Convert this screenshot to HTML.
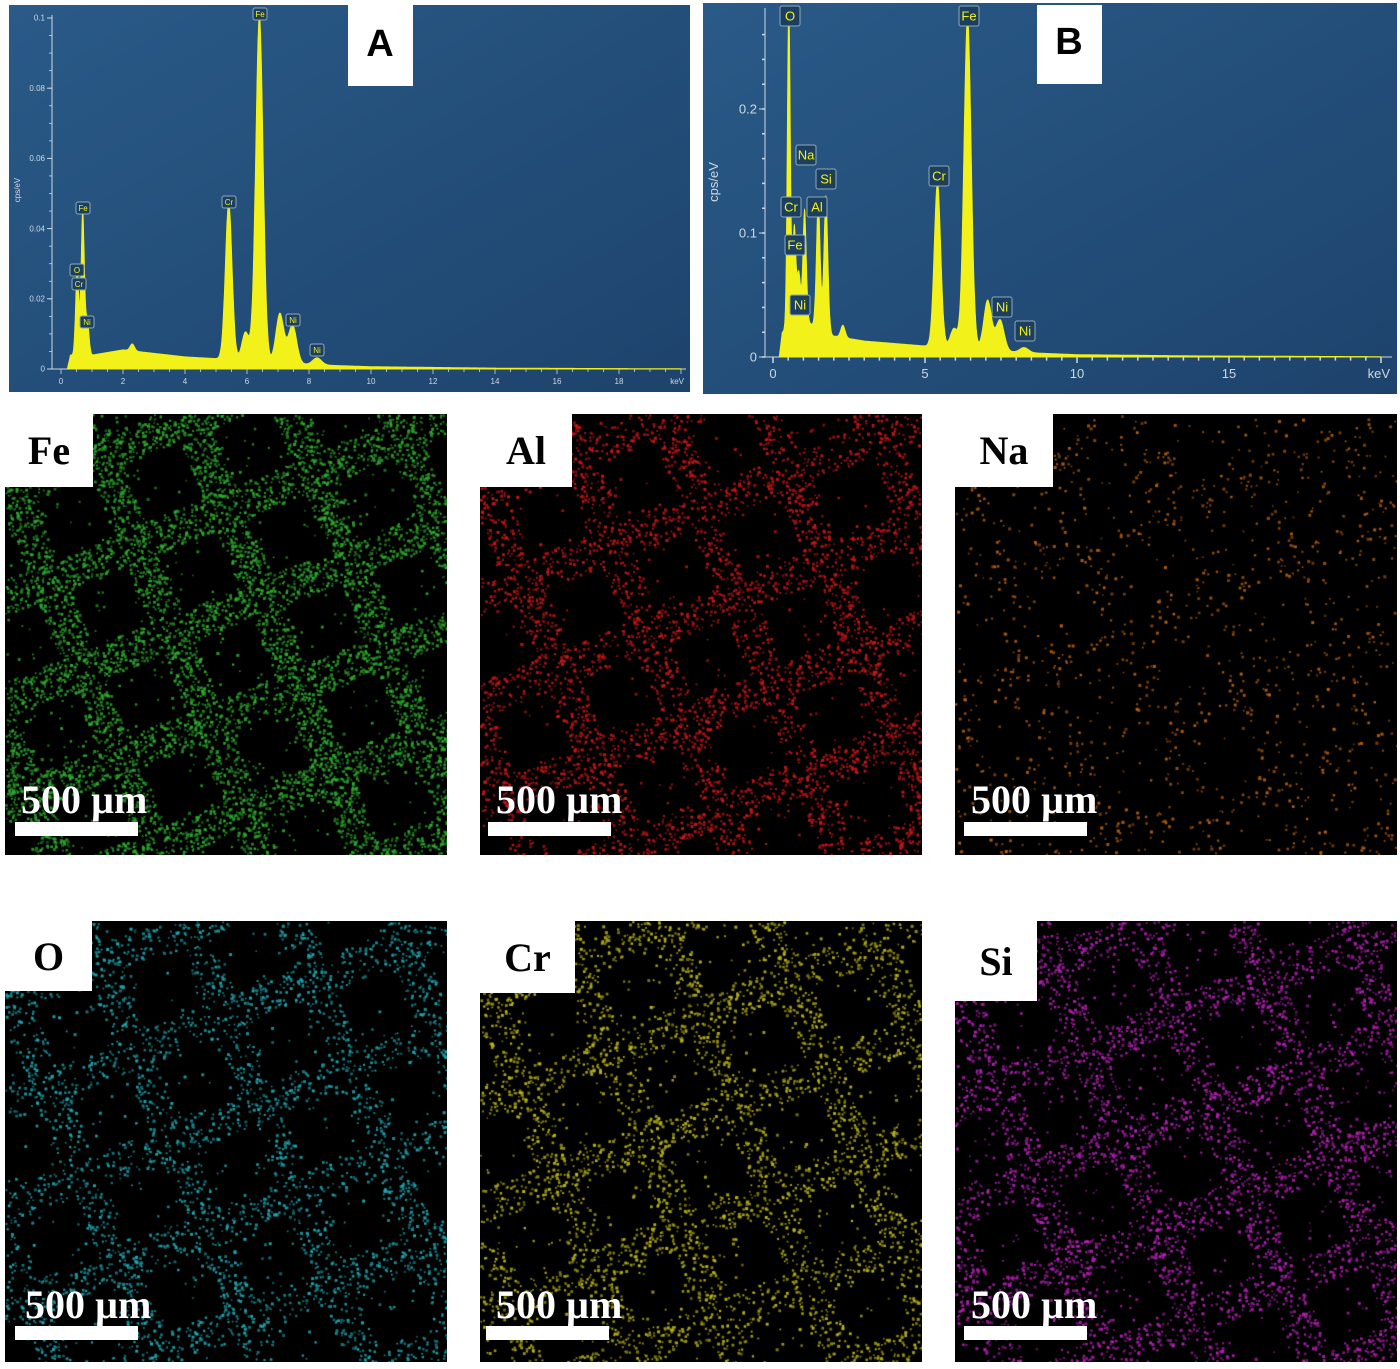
<!DOCTYPE html>
<html><head><meta charset="utf-8">
<style>
body{margin:0;background:#fff;width:1400px;height:1369px;position:relative;overflow:hidden;font-family:"Liberation Sans",sans-serif}
.abs{position:absolute}
.map{position:absolute;width:442px;height:441px;background:#000}
.map canvas{position:absolute;left:0;top:0}
.lab{position:absolute;left:0;top:0;background:#fff;font:bold 40px "Liberation Serif",serif;color:#000;display:flex;align-items:center;justify-content:center}
.sb{position:absolute;font:bold 40px "Liberation Serif",serif;color:#fff;left:16px;top:362px}
.bar{position:absolute;left:10px;top:408px;width:123px;height:14px;background:#fff}
</style></head><body>
<svg class="abs" style="left:0;top:0" width="1400" height="400" id="spec">
<defs><linearGradient id="bg" x1="0" y1="0" x2="1" y2="1"><stop offset="0" stop-color="#2a5a88"/><stop offset="1" stop-color="#1d436c"/></linearGradient></defs>
<rect x="9" y="5" width="681" height="387" fill="url(#bg)"/>
<rect x="703" y="3" width="694" height="391" fill="url(#bg)"/>
<g id="gA"></g><g id="gB"></g>
<rect x="348" y="5" width="65" height="81" fill="#fff"/>
<text x="380" y="56" text-anchor="middle" font-size="38" font-weight="bold" font-family="Liberation Sans">A</text>
<rect x="1037" y="5" width="65" height="79" fill="#fff"/>
<text x="1069" y="54" text-anchor="middle" font-size="38" font-weight="bold" font-family="Liberation Sans">B</text>
</svg>

<div class="map" style="left:5px;top:414px"><canvas width="442" height="441" id="c0"></canvas><div class="lab" style="width:88px;height:73px">Fe</div><div class="sb">500 µm</div><div class="bar"></div></div>
<div class="map" style="left:480px;top:414px"><canvas width="442" height="441" id="c1"></canvas><div class="lab" style="width:92px;height:73px">Al</div><div class="sb">500 µm</div><div class="bar" style="left:8px"></div></div>
<div class="map" style="left:955px;top:414px"><canvas width="442" height="441" id="c2"></canvas><div class="lab" style="width:98px;height:73px">Na</div><div class="sb">500 µm</div><div class="bar" style="left:9px"></div></div>
<div class="map" style="left:5px;top:921px"><canvas width="442" height="441" id="c3"></canvas><div class="lab" style="width:87px;height:70px">O</div><div class="sb" style="left:20px;top:360px">500 µm</div><div class="bar" style="top:405px"></div></div>
<div class="map" style="left:480px;top:921px"><canvas width="442" height="441" id="c4"></canvas><div class="lab" style="width:95px;height:72px">Cr</div><div class="sb" style="top:360px">500 µm</div><div class="bar" style="left:6px;top:405px"></div></div>
<div class="map" style="left:955px;top:921px"><canvas width="442" height="441" id="c5"></canvas><div class="lab" style="width:82px;height:80px">Si</div><div class="sb" style="top:360px">500 µm</div><div class="bar" style="left:9px;top:405px"></div></div>

<script>
// Spectrum A data
const peakEnergiesA=[0.52,0.70,0.85,5.41,6.40,7.47,8.26];
const peakHeightsA=[0.025,0.042,0.010,0.045,0.099,0.011,0.002];
const extraEnergiesA=[5.95,7.06,2.3];
const extraHeightsA=[0.008,0.014,0.002];
const bgEnergiesA=[0.2,0.3,1,2,3,4,5,6,8,10,14,20];
const bgValuesA=[0,0.004,0.004,0.0055,0.0045,0.0035,0.003,0.0025,0.0013,0.0007,0.0003,0.0001];
const yTicksA=[0,0.02,0.04,0.06,0.08,0.1];
const xTicksA=[0,2,4,6,8,10,12,14,16,18];
const labelNamesA=["Fe","Cr","Ni","Ni","Fe","O","Cr","Ni"];
// Spectrum B data
const peakEnergiesB=[0.52,0.70,1.04,1.49,1.74,5.41,6.40,0.85,7.47,8.26];
const peakHeightsB=[0.27,0.08,0.09,0.105,0.11,0.133,0.268,0.04,0.025,0.004];
const extraEnergiesB=[5.95,7.06,2.3];
const extraHeightsB=[0.015,0.04,0.01];
const bgEnergiesB=[0.2,0.3,1,2,3,4,5,6,8,10,14,20];
const bgValuesB=[0,0.02,0.03,0.017,0.013,0.011,0.009,0.008,0.004,0.002,0.001,0.0004];
const yTicksB=[0,0.1,0.2];
const xTicksB=[0,5,10,15];
const labelNamesB=["O","Fe","Na","Si","Cr","Al","Fe","Ni","Cr","Ni","Ni"];

const NS="http://www.w3.org/2000/svg";
function mk(tag,at,parent){const e=document.createElementNS(NS,tag);for(const k in at)e.setAttribute(k,at[k]);parent.appendChild(e);return e;}
function interp(xs,ys,x){if(x<=xs[0])return ys[0];for(let i=1;i<xs.length;i++){if(x<=xs[i]){const t=(x-xs[i-1])/(xs[i]-xs[i-1]);return ys[i-1]+t*(ys[i]-ys[i-1]);}}return ys[ys.length-1];}
function drawSpec(g,cfg){
  const X=e=>cfg.x0+e*cfg.kx, Y=v=>cfg.y0-v*cfg.ky;
  const ax=mk('line',{x1:cfg.ax,y1:cfg.ytop,x2:cfg.ax,y2:cfg.y0,stroke:'#cfd8e0','stroke-width':1},g);
  
  const xa=mk('line',{x1:cfg.ax,y1:cfg.y0,x2:cfg.xend,y2:cfg.y0,stroke:'#cfd8e0','stroke-width':1},g);
  
  for(let e=0;e<=cfg.emax;e+=cfg.minor){const big=Math.abs(e/cfg.major-Math.round(e/cfg.major))<1e-6;
    mk('line',{x1:X(e),y1:cfg.y0,x2:X(e),y2:cfg.y0+(big?cfg.tl:cfg.tl*0.6),stroke:'#cfd8e0','stroke-width':cfg.tw},g);}
  for(let v=0;v<=cfg.vmax+1e-9;v+=cfg.vminor){mk('line',{x1:cfg.ax-3,y1:Y(v),x2:cfg.ax,y2:Y(v),stroke:'#cfd8e0','stroke-width':cfg.tw},g);}
  cfg.yt.forEach(v=>{mk('line',{x1:cfg.ax-cfg.tl,y1:Y(v),x2:cfg.ax,y2:Y(v),stroke:'#cfd8e0'},g);
    const t=mk('text',{x:cfg.ax-cfg.tl-2,y:Y(v)+cfg.fs/3,'text-anchor':'end','font-size':cfg.fs,fill:'#cfd8e0'},g);t.textContent=String(v);
    });
  cfg.xt.forEach(v=>{const t=mk('text',{x:X(v),y:cfg.y0+cfg.tl+cfg.fs+2,'text-anchor':'middle','font-size':cfg.fs,fill:'#cfd8e0'},g);t.textContent=String(v);
    });
  let t=mk('text',{x:cfg.xend-2,y:cfg.y0+cfg.tl+cfg.fs+2,'text-anchor':'end','font-size':cfg.fs,fill:'#cfd8e0'},g);t.textContent='keV';
  
  t=mk('text',{x:cfg.ytx,y:cfg.yty,'text-anchor':'middle','font-size':cfg.fs,fill:'#cfd8e0',transform:`rotate(-90 ${cfg.ytx} ${cfg.yty})`},g);t.textContent='cps/eV';
  
  const pe=cfg.pe.concat(cfg.xe), ph=cfg.ph.concat(cfg.xh);
  let d='M'+X(0.2)+','+Y(0);
  for(let e=0.2;e<=cfg.emax;e+=0.01){let v=interp(cfg.be,cfg.bv,e);
    for(let i=0;i<pe.length;i++){const w=0.045+0.012*pe[i];v+=ph[i]*Math.exp(-((e-pe[i])**2)/(2*w*w));}
    d+='L'+X(e).toFixed(1)+','+Y(Math.min(v,cfg.vclip)).toFixed(1);}
  d+='L'+X(cfg.emax)+','+Y(0)+'Z';
  const p=mk('path',{d:d,fill:'#f2f21a',stroke:'#f2f21a','stroke-width':0.6},g);
  
  cfg.names.forEach((nm,i)=>{const bx=cfg.lpos[i][0], by=cfg.lpos[i][1];
    const r=mk('rect',{x:bx-cfg.bw/2,y:by-cfg.bh/2,width:cfg.bw,height:cfg.bh,fill:'#1d3f5e',stroke:'#8fa8bc','stroke-width':1,rx:2},g);
    
    const tt=mk('text',{x:bx,y:by+cfg.lfs*0.36,'text-anchor':'middle','font-size':cfg.lfs,fill:'#f2f21a'},g);tt.textContent=nm;
    });
}
drawSpec(document.getElementById('gA'),{x0:61,kx:31,y0:369,ky:3510,ax:52,ytop:15,xend:686,emax:20,minor:0.5,major:2,tl:5,tw:0.8,vmax:0.1,vminor:0.005,vclip:0.1,fs:8,
  yt:yTicksA,xt:xTicksA,pe:peakEnergiesA,ph:peakHeightsA,xe:extraEnergiesA,xh:extraHeightsA,be:bgEnergiesA,bv:bgValuesA,names:labelNamesA,ytx:20,yty:190,bw:14,bh:12,lfs:8,
  lpos:[[260,14],[229,202],[293,320],[317,350],[83,208],[77,270],[79,284],[87,322]]});
drawSpec(document.getElementById('gB'),{x0:773,kx:30.4,y0:357,ky:1240,ax:765,ytop:8,xend:1392,emax:20,minor:0.5,major:5,tl:6,tw:1.5,vmax:0.27,vminor:0.02,vclip:0.27,fs:13,
  yt:yTicksB,xt:xTicksB,pe:peakEnergiesB,ph:peakHeightsB,xe:extraEnergiesB,xh:extraHeightsB,be:bgEnergiesB,bv:bgValuesB,names:labelNamesB,ytx:718,yty:182,bw:20,bh:20,lfs:13,
  lpos:[[790,16],[969,16],[806,155],[826,179],[791,207],[817,207],[795,245],[800,305],[939,176],[1002,307],[1025,331]]});

// element maps (texture)
function rng(s){return function(){s=(s*1664525+1013904223)>>>0;return s/4294967296;}}
const mapColors=['#2faa2f','#c81818','#b86010','#1fa8b2','#bcb51a','#b420b4'];
const mapDensity=[7500,4800,1300,3800,4200,4600];
const mapOut=[0.04,0.06,0.35,0.08,0.08,0.08];
mapColors.forEach((col,k)=>{
  const c=document.getElementById('c'+k).getContext('2d');const r=rng(1234+k*77);
  const th=-22*Math.PI/180,P=96,w=34;c.fillStyle=col;
  let n=0;while(n<mapDensity[k]){const x=r()*442,y=r()*441;
    const u=x*Math.cos(th)+y*Math.sin(th)+1000, v=-x*Math.sin(th)+y*Math.cos(th)+1000;
    const inb=(u%P)<w||(v%P)<w; if(r()<(inb?1:mapOut[k])){const s=1.5+r()*1.6;c.globalAlpha=0.55+r()*0.45;c.fillRect(x,y,s,s);n++;}}
});
</script>
</body></html>
